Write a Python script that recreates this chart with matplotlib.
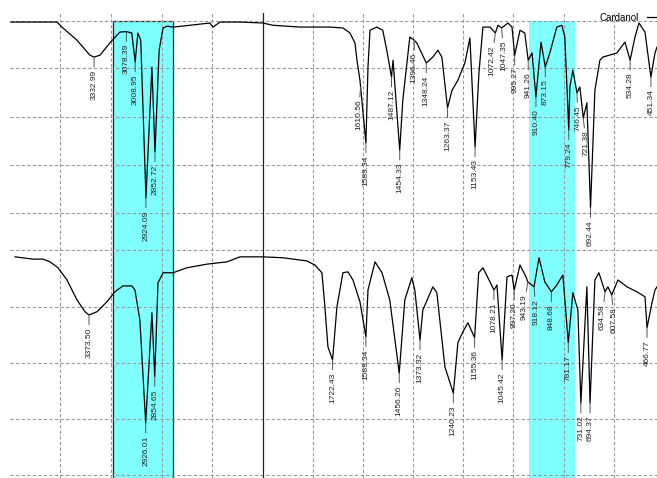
import numpy as np
import matplotlib
matplotlib.use("Agg")
import matplotlib.pyplot as plt

# ==========================================
# Spectra (wavenumber in cm-1, transmittance in arbitrary % units)
# ==========================================
cardanol_wn = [3990, 3626, 3587, 3468, 3366, 3332.99, 3287, 3209, 3130, 3078.39,
               3036, 3008.95, 2988, 2965, 2924.09, 2877, 2852.72, 2820, 2789, 2757,
               2710, 2576, 2419, 2395, 2340, 2183, 2000, 1961, 1853, 1733,
               1681, 1653, 1633, 1625, 1613, 1610.56, 1589.34, 1581, 1573, 1546,
               1522, 1506, 1487.12, 1481, 1454.33, 1442, 1414, 1396.46, 1386, 1348.24,
               1322, 1302, 1286, 1263.37, 1246, 1222, 1194, 1174, 1153.43, 1138,
               1122, 1094, 1072.42, 1062, 1047.35, 1022, 1006, 995.27, 974, 955,
               941.26, 926, 910.40, 890, 873.15, 855, 827, 807, 795, 779.24,
               775, 763, 746.45, 735, 721.38, 707, 692.44, 675, 655, 643,
               587, 555, 534.28, 515, 499, 475, 451.34, 435, 427]
cardanol_t = [99.7, 99.7, 98.6, 95.7, 92.4, 92.0, 92.4, 95.1, 97.5, 97.6,
              97.3, 90.9, 97.3, 95.7, 61.0, 89.8, 71.1, 93.5, 98.4, 98.8,
              98.6, 99.0, 99.5, 98.6, 99.7, 99.7, 99.5, 99.0, 98.6, 98.6,
              98.4, 97.3, 95.1, 91.3, 86.9, 85.4, 73.1, 89.8, 97.9, 98.6,
              97.9, 93.5, 87.6, 91.3, 71.5, 82.5, 96.4, 95.7, 95.1, 90.7,
              92.0, 93.5, 92.0, 80.8, 84.6, 86.9, 90.7, 96.2, 72.2, 88.5,
              98.6, 98.6, 97.3, 99.0, 98.4, 99.5, 98.6, 92.4, 97.9, 97.3,
              91.3, 92.9, 83.2, 95.3, 89.8, 92.9, 98.6, 99.0, 96.4, 75.9,
              85.4, 89.1, 84.1, 85.4, 78.6, 81.9, 58.8, 84.7, 91.3, 92.0,
              92.9, 95.3, 91.3, 96.4, 99.5, 97.5, 87.6, 92.9, 94.2]
cardanol_peaks = ["3332.99", "3078.39", "3008.95", "2924.09", "2852.72", "1610.56",
                  "1589.34", "1487.12", "1454.33", "1396.46", "1348.24", "1263.37",
                  "1153.43", "1072.42", "1047.35", "995.27", "941.26", "910.40",
                  "873.15", "779.24", "746.45", "721.38", "692.44", "534.28", "451.34"]

resin_wn = [3957, 3815, 3736, 3681, 3618, 3547, 3468, 3405, 3373.50, 3311,
            3232, 3169, 3106, 3035, 3011, 2972, 2926.01, 2877, 2854.65, 2829,
            2789, 2710, 2600, 2442, 2284, 2182, 2000, 1921, 1825, 1793,
            1765, 1753, 1741, 1722.43, 1705, 1681, 1661, 1641, 1613, 1589.34,
            1581, 1553, 1525, 1494, 1456.26, 1434, 1406, 1394, 1373.32, 1362,
            1322, 1306, 1274, 1240.23, 1222, 1202, 1182, 1155.36, 1139, 1122,
            1094, 1078.21, 1066, 1045.42, 1026, 1006, 997.20, 974, 950, 943.19,
            918.12, 898, 875, 848.68, 827, 803, 781.17, 763, 743, 731.02,
            707, 694.37, 675, 659, 634.58, 623, 607.58, 583, 547, 507,
            475, 466.77, 447, 435, 427]
resin_t = [48.0, 47.5, 47.5, 46.9, 45.6, 42.9, 38.5, 35.9, 35.2, 35.9,
           38.1, 40.3, 41.6, 41.6, 40.7, 34.1, 11.4, 35.7, 21.6, 42.3,
           44.5, 44.5, 45.6, 46.4, 46.9, 48.0, 48.0, 47.8, 47.1, 46.2,
           44.5, 37.0, 28.2, 25.3, 37.0, 44.5, 44.7, 42.9, 38.1, 30.4,
           40.7, 46.9, 44.5, 38.5, 22.4, 38.5, 43.4, 40.7, 29.7, 36.3,
           41.4, 40.1, 23.8, 18.0, 29.1, 31.5, 33.5, 30.2, 44.5, 45.6,
           42.5, 40.7, 41.8, 25.3, 43.6, 44.0, 40.7, 46.2, 43.6, 42.5,
           41.4, 47.8, 42.5, 40.3, 41.8, 44.0, 29.1, 40.1, 36.3, 15.8,
           41.4, 15.8, 42.9, 44.5, 40.3, 41.4, 39.6, 42.9, 41.4, 40.3,
           39.2, 32.4, 37.9, 40.7, 41.4]
resin_peaks = ["3373.50", "2926.01", "2854.65", "1722.43", "1589.34", "1456.26",
               "1373.32", "1240.23", "1155.36", "1078.21", "1045.42", "997.20",
               "943.19", "918.12", "848.68", "781.17", "731.02", "694.37",
               "634.58", "607.58", "466.77"]

# highlighted regions (cm-1)
bands = [(3184, 2711), (938, 755)]

grid_x = [3600, 3200, 2800, 2400, 1800, 1600, 1400, 1200, 1000, 800, 600]
grid_y = [100, 89.6, 78.8, 68.2, 57.7, 49.4, 37.0, 24.7, 12.3, 0]

# sideways nudges (points) for crowded peak labels
nudge = {"1610.56": -1.5, "1072.42": -2.5, "1047.35": 1.5, "943.19": -2.5, "918.12": 1.5,
         "634.58": -2, "607.58": 1.5, "746.45": 0.5, "721.38": 2}


# ==========================================
# x scale: region above 2000 cm-1 compressed (FTIR style)
# ==========================================
def fwd(w):
    w = np.asarray(w, dtype=float)
    return np.where(w >= 2000, 2000 + (w - 2000) * 0.506, w)


def inv(u):
    u = np.asarray(u, dtype=float)
    return np.where(u >= 2000, 2000 + (u - 2000) / 0.506, u)


fig = plt.figure(figsize=(6.57, 4.78), dpi=100)
ax = fig.add_axes([9.6 / 657, 0, 1 - 9.6 / 657, 465 / 478])
ax.set_xscale("function", functions=(fwd, inv))
ax.set_xlim(4000, 427)
ax.set_ylim(-0.7, 101.7)

# bands
ax.fill_between(bands[0], -2, 100, color="#80ffff", edgecolor="#222222", linewidth=0.9, zorder=0)
ax.fill_between(bands[1], -2, 100, color="#80ffff", linewidth=0, zorder=0)

# grid
for gx in grid_x:
    ax.axvline(gx, color="#999999", linestyle=(0, (3, 2)), linewidth=0.8, zorder=1)
for gy in grid_y:
    ax.axhline(gy, color="#999999", linestyle=(0, (3, 2)), linewidth=0.8, zorder=1)
ax.axvline(2000, color="#222222", linewidth=0.9, zorder=1)

ax.plot(cardanol_wn, cardanol_t, color="black", linewidth=0.9, label="Cardanol", zorder=3)
ax.plot(resin_wn, resin_t, color="black", linewidth=0.9, zorder=3)


def label_peaks(wn, t, peaks):
    order = np.argsort(wn)
    xs = np.array(wn)[order]
    ys = np.array(t)[order]
    for p in peaks:
        w = float(p)
        y = np.interp(w, xs, ys)
        ax.annotate(p, xy=(w, y), xytext=(nudge.get(p, 0), -9), textcoords="offset points",
                    rotation=90, ha="center", va="top", fontsize=6,
                    family="Liberation Sans", color="#222222",
                    arrowprops=dict(arrowstyle="-", color="#555555", lw=0.7,
                                    shrinkA=0, shrinkB=0),
                    annotation_clip=False, zorder=4)


label_peaks(cardanol_wn, cardanol_t, cardanol_peaks)
label_peaks(resin_wn, resin_t, resin_peaks)

for s in ax.spines.values():
    s.set_visible(False)
ax.set_xticks([])
ax.set_yticks([])

fig.legend(loc="upper left", bbox_to_anchor=(594 / 657, 1 - 7 / 478), frameon=False,
           markerfirst=False, handlelength=1.6, borderpad=0.1,
           prop={"family": "Liberation Sans", "size": 7})

plt.savefig("out.png", dpi=100)
plt.close()
